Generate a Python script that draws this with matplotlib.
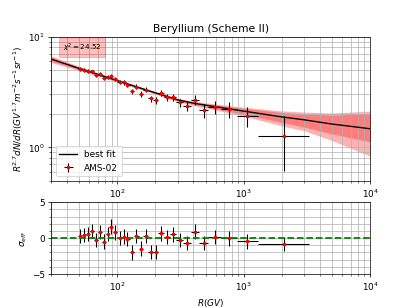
import numpy as np
import matplotlib
matplotlib.use('Agg')
import matplotlib.pyplot as plt
from matplotlib.ticker import MultipleLocator

# AMS-02 beryllium data
bin_lo = [48.5, 52.2, 56.1, 60.3, 64.8, 69.7, 74.9, 80.5, 86.5, 93.0,
          100, 108, 116, 125, 135, 147, 160, 175, 192, 211,
          233, 259, 291, 330, 379, 441, 525, 660, 880, 1300]
bin_hi = [52.2, 56.1, 60.3, 64.8, 69.7, 74.9, 80.5, 86.5, 93.0, 100,
          108, 116, 125, 135, 147, 160, 175, 192, 211, 233,
          259, 291, 330, 379, 441, 525, 660, 880, 1300, 3300]
rig = [50.4, 54.1, 58.2, 62.5, 67.2, 72.3, 77.7, 83.5, 89.7, 96.5,
       104, 112, 120, 130, 141, 153, 167, 183, 201, 222,
       246, 275, 310, 354, 409, 481, 589, 762, 1070, 2070]
flux = [5.11, 5.01, 4.87, 4.84, 4.52, 4.62, 4.25, 4.31, 4.40, 4.13,
        3.91, 3.85, 3.65, 3.22, 3.52, 3.04, 3.31, 2.76, 2.65, 3.08,
        2.84, 2.84, 2.54, 2.34, 2.69, 2.15, 2.31, 2.20, 1.90, 1.26]
flux_err = [0.20, 0.20, 0.20, 0.19, 0.18, 0.19, 0.17, 0.18, 0.18, 0.17,
            0.17, 0.17, 0.17, 0.17, 0.18, 0.17, 0.18, 0.17, 0.17, 0.20,
            0.20, 0.20, 0.21, 0.22, 0.30, 0.30, 0.32, 0.35, 0.39, 0.65]
sigma = [0.3, 0.4, 0.6, 0.95, -0.25, 0.85, -0.5, 0.6, 1.6, 0.8,
         0.05, 0.2, -0.1, -2.0, 0.3, -1.45, 0.25, -1.9, -1.95, 0.65,
         0.15, 0.5, -0.3, -0.65, 0.9, -0.7, 0.15, -0.05, -0.45, -0.85]

# best fit curve and uncertainty bands
fit_r = [30, 50, 100, 150, 200, 300, 400, 500, 1000, 2000, 3000, 5000, 10000]
fit_y = [6.25, 5.15, 4.00, 3.44, 3.10, 2.68, 2.50, 2.40, 2.12, 1.88, 1.77, 1.62, 1.47]
inner_hi = [6.54, 5.29, 4.08, 3.51, 3.16, 2.74, 2.57, 2.48, 2.25, 2.06, 2.01, 1.95, 2.01]
inner_lo = [5.97, 5.01, 3.93, 3.38, 3.04, 2.62, 2.43, 2.31, 1.98, 1.68, 1.52, 1.32, 1.12]
outer_hi = [6.70, 5.37, 4.11, 3.54, 3.19, 2.77, 2.61, 2.52, 2.30, 2.13, 2.08, 2.04, 2.12]
outer_lo = [5.83, 4.94, 3.89, 3.35, 3.02, 2.59, 2.39, 2.27, 1.91, 1.56, 1.41, 1.15, 0.83]

chi2 = 24.52

rig = np.array(rig)
xerr = [rig - np.array(bin_lo), np.array(bin_hi) - rig]

fig, (ax1, ax2) = plt.subplots(2, 1, figsize=(6.4, 4.8), dpi=64.25,
                               gridspec_kw={'height_ratios': [2, 1]})

# top panel: flux
ax1.fill_between(fit_r, outer_lo, outer_hi, color='red', alpha=0.3, lw=0)
ax1.fill_between(fit_r, inner_lo, inner_hi, color='red', alpha=0.3, lw=0)
ax1.plot(fit_r, fit_y, color='k', lw=1.5, label='best fit')
ax1.errorbar(rig, flux, xerr=xerr, yerr=flux_err, fmt='o', color='red',
             ms=3, ecolor='k', elinewidth=1.2, label='AMS-02')
ax1.set_xscale('log')
ax1.set_yscale('log')
ax1.set_xlim(30, 1e4)
ax1.set_ylim(0.5, 10)
ax1.grid(True, which='both')
ax1.set_title('Beryllium (Scheme II)')
ax1.set_ylabel(r'$R^{2.7}dN/dR(GV^{1.7}m^{-2}s^{-1}sr^{-1})$')
ax1.text(0.035, 0.905, r'$\chi^2 = %.2f$' % chi2, transform=ax1.transAxes,
         fontsize=8, bbox=dict(facecolor='red', edgecolor='red', alpha=0.25))
ax1.legend(loc='lower left')

# bottom panel: residuals
ax2.errorbar(rig, sigma, xerr=xerr, yerr=1, fmt='o', color='red',
             ms=3, ecolor='k', elinewidth=1.2)
ax2.axhline(0, color='green', ls='--', lw=2)
ax2.set_xscale('log')
ax2.set_xlim(30, 1e4)
ax2.set_ylim(-5, 5)
ax2.set_yticks([-5, 0, 5])
ax2.yaxis.set_minor_locator(MultipleLocator(1))
ax2.grid(True, which='both')
ax2.set_ylabel(r'$\sigma_{eff}$')
ax2.set_xlabel(r'$R(GV)$')

plt.savefig('out.png')
